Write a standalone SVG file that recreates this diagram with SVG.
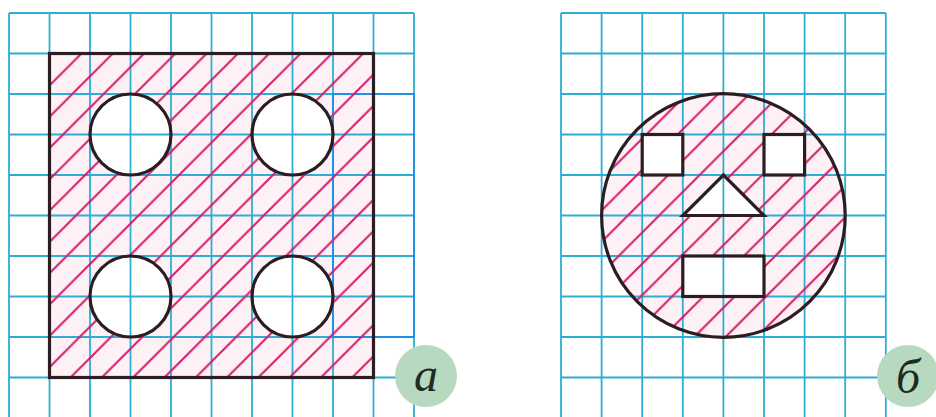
<svg xmlns="http://www.w3.org/2000/svg" width="936" height="417" viewBox="0 0 936 417">
<style>
.grid{stroke:#2eaed4;stroke-width:1.8;fill:none}
.grid2{stroke:#1e8ee6;stroke-width:1.8;fill:none}
.outline{stroke:#2b1d22;stroke-width:3.2;fill:none}
.tint{fill:#fdf1f6;stroke:none}
.badge{fill:#b6d9bf}
.lbl{font-family:"Liberation Serif","DejaVu Serif",serif;font-style:italic;font-size:48px;fill:#1f2a24;text-anchor:middle}
</style>
<defs>
<pattern id="hatchA" patternUnits="userSpaceOnUse" x="9.8" y="0" width="31.3" height="31.3">
<path d="M0,31.3 L31.3,0 M-2,2 L2,-2 M29.3,33.3 L33.3,29.3" stroke="#d41c6a" stroke-width="2"/>
</pattern>
<pattern id="hatchB" patternUnits="userSpaceOnUse" x="29.6" y="0" width="31.3" height="31.3">
<path d="M0,31.3 L31.3,0 M-2,2 L2,-2 M29.3,33.3 L33.3,29.3" stroke="#d41c6a" stroke-width="2"/>
</pattern>
</defs>
<rect width="936" height="417" fill="#ffffff"/>

<g id="tints">
<path class="tint" fill-rule="evenodd" d="M49.5,53.5H373.5V377.5H49.5Z M90,134.5a40.5,40.5 0 1,0 81,0a40.5,40.5 0 1,0 -81,0Z M252,134.5a40.5,40.5 0 1,0 81,0a40.5,40.5 0 1,0 -81,0Z M90,296.5a40.5,40.5 0 1,0 81,0a40.5,40.5 0 1,0 -81,0Z M252,296.5a40.5,40.5 0 1,0 81,0a40.5,40.5 0 1,0 -81,0Z"/>
<path class="tint" fill-rule="evenodd" d="M601.6,215.5a121.8,121.8 0 1,0 243.6,0a121.8,121.8 0 1,0 -243.6,0Z M642.2,134.5H682.8V175H642.2Z M764,134.5H804.6V175H764Z M723.4,175L764,215.5H682.8Z M682.8,256H764V296.5H682.8Z"/>
</g>

<g id="grid-a">
<path class="grid" d="M9,13V417 M49.5,13V417 M90,13V417 M130.5,13V417 M171,13V417 M211.5,13V417 M252,13V417 M292.5,13V417 M333,13V417 M373.5,13V417 M414,13V417 M9,13H414 M9,53.5H414 M9,94H414 M9,134.5H414 M9,175H414 M9,215.5H414 M9,256H414 M9,296.5H414 M9,337H414 M9,377.5H414"/>
<rect class="grid2" x="333" y="94" width="81" height="243"/>
</g>

<g id="grid-b">
<path class="grid" d="M561,13V417 M601.6,13V417 M642.2,13V417 M682.8,13V417 M723.4,13V417 M764,13V417 M804.6,13V417 M845.2,13V417 M885.8,13V417 M561,13H885.8 M561,53.5H885.8 M561,94H885.8 M561,134.5H885.8 M561,175H885.8 M561,215.5H885.8 M561,256H885.8 M561,296.5H885.8 M561,337H885.8 M561,377.5H885.8"/>
</g>

<g id="figure-a">
<path fill="url(#hatchA)" fill-rule="evenodd" d="M49.5,53.5H373.5V377.5H49.5Z M90,134.5a40.5,40.5 0 1,0 81,0a40.5,40.5 0 1,0 -81,0Z M252,134.5a40.5,40.5 0 1,0 81,0a40.5,40.5 0 1,0 -81,0Z M90,296.5a40.5,40.5 0 1,0 81,0a40.5,40.5 0 1,0 -81,0Z M252,296.5a40.5,40.5 0 1,0 81,0a40.5,40.5 0 1,0 -81,0Z"/>
<rect class="outline" x="49.5" y="53.5" width="324" height="324"/>
<circle class="outline" cx="130.5" cy="134.5" r="40.5"/>
<circle class="outline" cx="292.5" cy="134.5" r="40.5"/>
<circle class="outline" cx="130.5" cy="296.5" r="40.5"/>
<circle class="outline" cx="292.5" cy="296.5" r="40.5"/>
</g>

<g id="figure-b">
<path fill="url(#hatchB)" fill-rule="evenodd" d="M601.6,215.5a121.8,121.8 0 1,0 243.6,0a121.8,121.8 0 1,0 -243.6,0Z M642.2,134.5H682.8V175H642.2Z M764,134.5H804.6V175H764Z M723.4,175L764,215.5H682.8Z M682.8,256H764V296.5H682.8Z"/>
<circle class="outline" cx="723.4" cy="215.5" r="121.8"/>
<rect class="outline" x="642.2" y="134.5" width="40.6" height="40.5"/>
<rect class="outline" x="764" y="134.5" width="40.6" height="40.5"/>
<path class="outline" stroke-linejoin="miter" d="M723.4,175L764,215.5H682.8Z"/>
<rect class="outline" x="682.8" y="256" width="81.2" height="40.5"/>
</g>

<g id="label-a">
<circle class="badge" cx="426" cy="376" r="31"/>
<text class="lbl" x="426" y="391">а</text>
</g>
<g id="label-b">
<circle class="badge" cx="908" cy="376" r="31"/>
<text class="lbl" x="908" y="393">б</text>
</g>
</svg>
